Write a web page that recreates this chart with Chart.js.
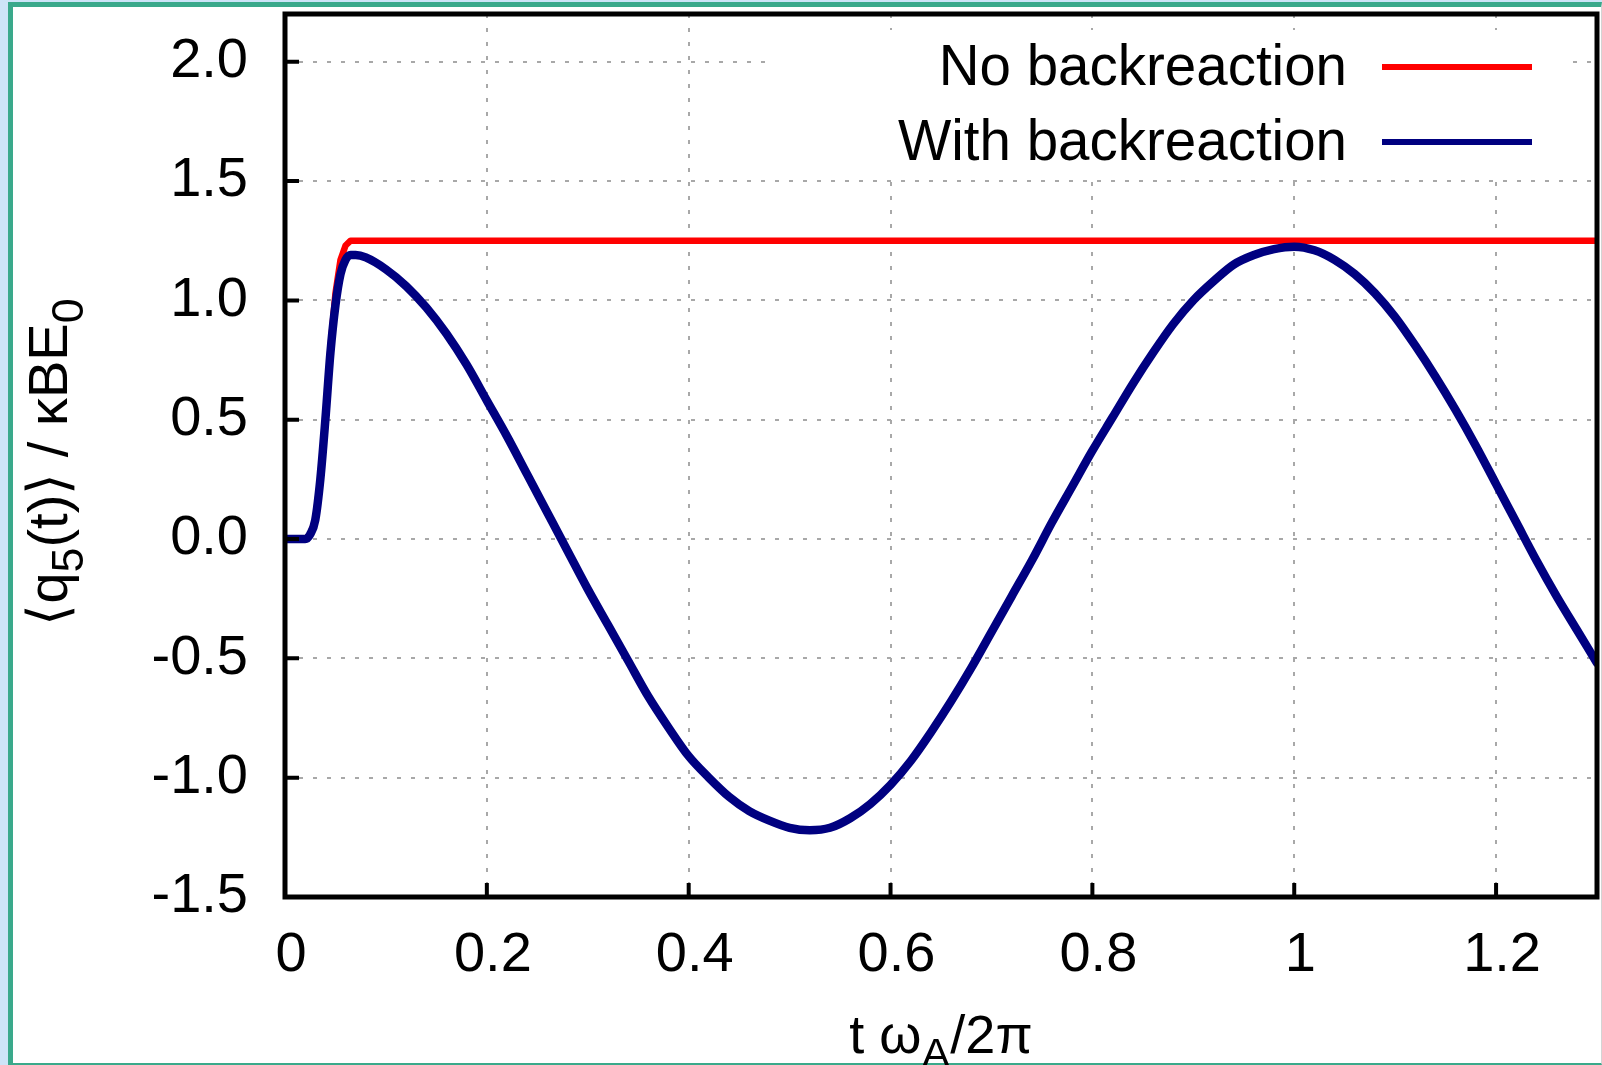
<!DOCTYPE html>
<html>
<head>
<meta charset="utf-8">
<script src="https://cdn.jsdelivr.net/npm/chart.js@4.4.0/dist/chart.umd.min.js"></script>
<style>
  html, body { margin: 0; padding: 0; }
  body { width: 1602px; height: 1065px; background: #cde4f7; position: relative; overflow: hidden; }
  #frame {
    position: absolute; left: 8px; top: 2px; width: 1594px; height: 1063px; box-sizing: border-box;
    border-left: 5px solid #3aa98b; border-top: 5px solid #3aa98b; border-bottom: 2px solid #3aa98b;
    border-right: 1px solid #d4d4d4; background: #fff;
  }
  #chart { position: absolute; left: 0; top: 0; }
</style>
</head>
<body>
<div id="frame"></div>
<canvas id="chart" width="1602" height="1065"></canvas>
<script>
// values
const tWith = [0, 0.02, 0.025, 0.03, 0.035, 0.04, 0.045, 0.05, 0.055, 0.06, 0.065, 0.07, 0.08,
  0.10, 0.12, 0.14, 0.16, 0.18, 0.20, 0.22, 0.24, 0.26, 0.28, 0.30, 0.32, 0.34, 0.36, 0.38,
  0.40, 0.42, 0.44, 0.46, 0.48, 0.50, 0.52, 0.54, 0.56, 0.58, 0.60, 0.62, 0.64, 0.66, 0.68,
  0.70, 0.72, 0.74, 0.76, 0.78, 0.80, 0.82, 0.84, 0.86, 0.88, 0.90, 0.92, 0.94, 0.96, 0.98,
  1.00, 1.02, 1.04, 1.06, 1.08, 1.10, 1.12, 1.14, 1.16, 1.18, 1.20, 1.22, 1.24, 1.26, 1.28, 1.30];
const qWith = [0, 0, 0.02, 0.08, 0.25, 0.5, 0.78, 0.98, 1.11, 1.17, 1.19, 1.19, 1.18,
  1.13, 1.06, 0.97, 0.86, 0.73, 0.58, 0.43, 0.27, 0.11, -0.05, -0.21, -0.36, -0.51, -0.66, -0.79,
  -0.91, -1.00, -1.08, -1.14, -1.18, -1.21, -1.22, -1.21, -1.17, -1.11, -1.03, -0.93, -0.81, -0.68, -0.54,
  -0.39, -0.24, -0.09, 0.07, 0.22, 0.37, 0.51, 0.65, 0.78, 0.90, 1.00, 1.08, 1.15, 1.19, 1.215,
  1.225, 1.21, 1.17, 1.11, 1.03, 0.93, 0.81, 0.68, 0.54, 0.39, 0.23, 0.07, -0.09, -0.24, -0.38, -0.52];

const tNo = [0, 0.02, 0.025, 0.03, 0.035, 0.04, 0.045, 0.05, 0.055, 0.06, 0.065, 0.07, 1.30];
const qNo = [0, 0, 0.02, 0.08, 0.25, 0.5, 0.8, 1.03, 1.17, 1.23, 1.25, 1.25, 1.25];

const seriesLabels = ['No backreaction', 'With backreaction'];
const seriesColors = ['#ff0000', '#000080'];

const xTicks = [0, 0.2, 0.4, 0.6, 0.8, 1, 1.2];
const xTickLabels = ['0', '0.2', '0.4', '0.6', '0.8', '1', '1.2'];
const yTicks = [-1.5, -1, -0.5, 0, 0.5, 1, 1.5, 2];
const yTickLabels = ['-1.5', '-1.0', '-0.5', '0.0', '0.5', '1.0', '1.5', '2.0'];

// [text, isSubscript]
const xTitle = [['t \u03c9', 0], ['A', 1], ['/2\u03c0', 0]];
const yTitle = [['\u27e8q', 0], ['5', 1], ['(t)\u27e9 / \u03baBE', 0], ['0', 1]];

const FONT = '"Liberation Sans", Arial, sans-serif';

function toPoints(xs, ys) {
  return xs.map((x, i) => ({ x: x, y: ys[i] }));
}

function drawRich(ctx, parts, x, y, size) {
  // centred on x, baseline at y
  let total = 0;
  parts.forEach(p => {
    ctx.font = (p[1] ? size * 0.8 : size) + 'px ' + FONT;
    total += ctx.measureText(p[0]).width;
  });
  let cx = x - total / 2;
  ctx.textAlign = 'left';
  ctx.textBaseline = 'alphabetic';
  parts.forEach(p => {
    ctx.font = (p[1] ? size * 0.8 : size) + 'px ' + FONT;
    ctx.fillText(p[0], cx, p[1] ? y + size * 0.28 : y);
    cx += ctx.measureText(p[0]).width;
  });
}

const gnuplotLook = {
  id: 'gnuplotLook',
  beforeDatasetsDraw(chart) {
    // opaque key box hides the grid behind the legend
    const ctx = chart.ctx;
    ctx.save();
    ctx.fillStyle = '#fff';
    ctx.fillRect(775, 30, 790, 148);
    ctx.restore();
  },
  afterDatasetsDraw(chart) {
    const ctx = chart.ctx;
    const a = chart.chartArea;
    const xs = chart.scales.x, ys = chart.scales.y;
    ctx.save();
    ctx.strokeStyle = '#000';
    ctx.lineWidth = 5;
    ctx.strokeRect(a.left, a.top, a.right - a.left, a.bottom - a.top);
    ctx.lineWidth = 4;
    ctx.beginPath();
    yTicks.forEach(v => {
      const py = ys.getPixelForValue(v);
      ctx.moveTo(a.left, py);
      ctx.lineTo(a.left + 14, py);
    });
    xTicks.forEach(v => {
      const px = xs.getPixelForValue(v);
      ctx.moveTo(px, a.bottom);
      ctx.lineTo(px, a.bottom - 14);
    });
    ctx.stroke();

    // legend, gnuplot style: text then sample line
    ctx.font = '56.5px ' + FONT;
    ctx.textAlign = 'right';
    ctx.textBaseline = 'middle';
    chart.data.datasets.forEach((ds, i) => {
      const y = 67 + i * 75;
      ctx.fillStyle = '#000';
      ctx.fillText(ds.label, 1347, y + 2);
      ctx.strokeStyle = ds.borderColor;
      ctx.lineWidth = 6;
      ctx.beginPath();
      ctx.moveTo(1382, y);
      ctx.lineTo(1532, y);
      ctx.stroke();
    });

    // axis titles
    ctx.fillStyle = '#000';
    drawRich(ctx, xTitle, (a.left + a.right) / 2, 1053, 54);
    ctx.translate(67, 462);
    ctx.rotate(-Math.PI / 2);
    drawRich(ctx, yTitle, 0, 0, 56);
    ctx.restore();
  }
};

new Chart(document.getElementById('chart'), {
  type: 'line',
  data: {
    datasets: [
      {
        label: seriesLabels[0],
        data: toPoints(tNo, qNo),
        borderColor: seriesColors[0],
        borderWidth: 6.5,
        order: 2
      },
      {
        label: seriesLabels[1],
        data: toPoints(tWith, qWith),
        borderColor: seriesColors[1],
        borderWidth: 8.5,
        cubicInterpolationMode: 'monotone',
        order: 1
      }
    ]
  },
  options: {
    responsive: false,
    animation: false,
    events: [],
    layout: { padding: { left: 0, right: 5, top: 14, bottom: 0 } },
    elements: {
      point: { radius: 0 },
      line: { tension: 0, borderJoinStyle: 'round', borderCapStyle: 'round' }
    },
    plugins: {
      legend: { display: false },
      tooltip: { enabled: false }
    },
    scales: {
      x: {
        type: 'linear',
        min: 0,
        max: 1.3,
        afterBuildTicks: s => { s.ticks = xTicks.map(v => ({ value: v })); },
        afterFit: s => { s.height = 168; s.paddingLeft = 0; s.paddingRight = 0; },
        ticks: {
          autoSkip: false,
          maxRotation: 0,
          padding: 25,
          labelOffset: 6,
          color: '#000',
          font: { family: FONT, size: 56 },
          callback: v => xTickLabels[xTicks.indexOf(v)]
        },
        grid: { color: '#a8a8a8', lineWidth: 2, drawTicks: false },
        border: { display: false, dash: [4, 10] }
      },
      y: {
        type: 'linear',
        min: -1.5,
        max: 2.2,
        afterBuildTicks: s => { s.ticks = yTicks.map(v => ({ value: v })); },
        afterFit: s => { s.width = 285; s.paddingTop = 0; s.paddingBottom = 0; },
        ticks: {
          autoSkip: false,
          padding: 37,
          color: '#000',
          font: { family: FONT, size: 56 },
          callback: v => yTickLabels[yTicks.indexOf(v)]
        },
        grid: { color: '#a8a8a8', lineWidth: 2, drawTicks: false },
        border: { display: false, dash: [4, 10] }
      }
    }
  },
  plugins: [gnuplotLook]
});
</script>
</body>
</html>
